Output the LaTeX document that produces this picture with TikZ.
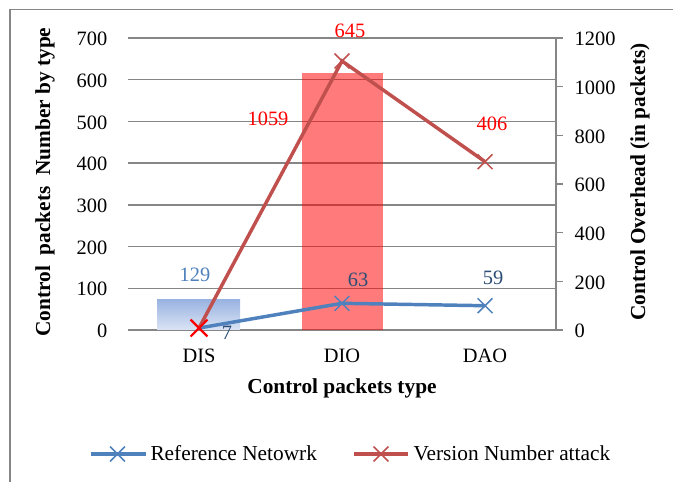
\documentclass[tikz,border=0pt]{standalone}
\usepackage{fontspec}
\setmainfont{Liberation Serif}
\usetikzlibrary{shapes.misc}

\definecolor{gridgray}{RGB}{134,134,134}
\definecolor{refblue}{RGB}{79,129,189}
\definecolor{atkred}{RGB}{192,80,77}
\definecolor{lblblue}{RGB}{44,77,117}

\tikzset{every picture/.style={line width=0.75pt},
  gridline/.style={draw=gridgray, line width=1.1pt},
  refline/.style={draw=refblue, line width=2.6pt},
  atkline/.style={draw=atkred, line width=2.6pt},
  refx/.style={cross out, draw=refblue, line width=1.1pt, minimum size=10pt, inner sep=0pt},
  atkx/.style={cross out, draw=atkred, line width=1.1pt, minimum size=10pt, inner sep=0pt},
  ticklbl/.style={inner sep=0.75pt},
  legtxt/.style={inner sep=0.75pt, anchor=west, font=\fontsize{16}{19}\selectfont},
  axtitle/.style={inner sep=0.75pt, font=\fontsize{16}{19}\selectfont\bfseries}}

\begin{document}
\begin{tikzpicture}[x=0.75pt,y=0.75pt,yscale=-1,xscale=1, font=\fontsize{15.3}{18}\selectfont]
\useasboundingbox (0,0) rectangle (673,482);

%Shape: Frame
\draw [gridgray, line width=1.1pt] (10,482) -- (10,9.5) -- (673,9.5) ;

%Gridlines and left scale
\foreach \k/\lab in {0/0,1/100,2/200,3/300,4/400,5/500,6/600,7/700}
  \draw [gridline] (128,{330-41.71*\k}) -- (556,{330-41.71*\k})
        node [ticklbl, anchor=east] at (109,{331-41.71*\k}) {\lab};

%Right axis with ticks
\draw [gridline] (556,38) -- (556,330) ;
\foreach \k/\lab in {0/0,1/200,2/400,3/600,4/800,5/1000,6/1200}
  \draw [gridline] (556,{330-48.67*\k}) -- (563,{330-48.67*\k})
        node [ticklbl, anchor=west] at (573,{331-48.67*\k}) {\lab};

%Shape: Bars
\fill [top color={rgb,255:red,152;green,178;blue,225}, bottom color={rgb,255:red,218;green,227;blue,244}] (157,299) rectangle (240,329.5) ;
\fill [red, fill opacity=0.52] (301.5,72.7) rectangle (383,329.5) ;

%Series: Version Number attack
\node [atkx] (atk-dis) at (199,328) {};
\node [atkx] (atk-dio) at (342,61) {};
\node [atkx] (atk-dao) at (485,161.7) {};
\draw [atkline] (atk-dis.center) -- (atk-dio.center) -- (atk-dao.center) ;

%Series: Reference Netowrk
\node [refx] (ref-dis) at (199,328) {};
\node [refx] (ref-dio) at (342,303.3) {};
\node [refx] (ref-dao) at (485,305.7) {};
\draw [refline] (ref-dis.center) -- (ref-dio.center) -- (ref-dao.center) ;
\node [cross out, draw=red, line width=1.6pt, minimum size=11pt, inner sep=0pt] (atk-mark) at (199,328) {};

% Text Node
\node [ticklbl, text=refblue] (lbl-129) at (195,275) {129};
\node [ticklbl, text=lblblue] (lbl-7) at (227,333) {7};
\node [ticklbl, text=lblblue] (lbl-63) at (358,280) {63};
\node [ticklbl, text=lblblue] (lbl-59) at (493,278) {59};
\node [ticklbl, text=red] (lbl-645) at (350,31) {645};
\node [ticklbl, text=red] (lbl-1059) at (268,119) {1059};
\node [ticklbl, text=red] (lbl-406) at (492,124) {406};

% Category labels
\node [ticklbl] (cat-dis) at (199,356) {DIS};
\node [ticklbl] (cat-dio) at (342,356) {DIO};
\node [ticklbl] (cat-dao) at (485,356) {DAO};

% Axis titles
\node [axtitle] (xtitle) at (342,388) {Control packets type};
\node [axtitle, rotate=90] (ytitle) at (45,182) {Control\ \ packets\ \ Number by type};
\node [axtitle, rotate=90] (y2title) at (640,182) {Control Overhead (in packets)};

% Legend
\node [refx] (leg-ref) at (117.5,454) {};
\draw [refline] (91,454) -- (leg-ref.center) -- (146,454) ;
\node [legtxt] (leg-ref-txt) at (149,453) {Reference Netowrk};
\node [atkx] (leg-atk) at (381,454) {};
\draw [atkline] (354,454) -- (leg-atk.center) -- (408,454) ;
\node [legtxt] (leg-atk-txt) at (412,453) {Version Number attack};

\end{tikzpicture}
\end{document}
